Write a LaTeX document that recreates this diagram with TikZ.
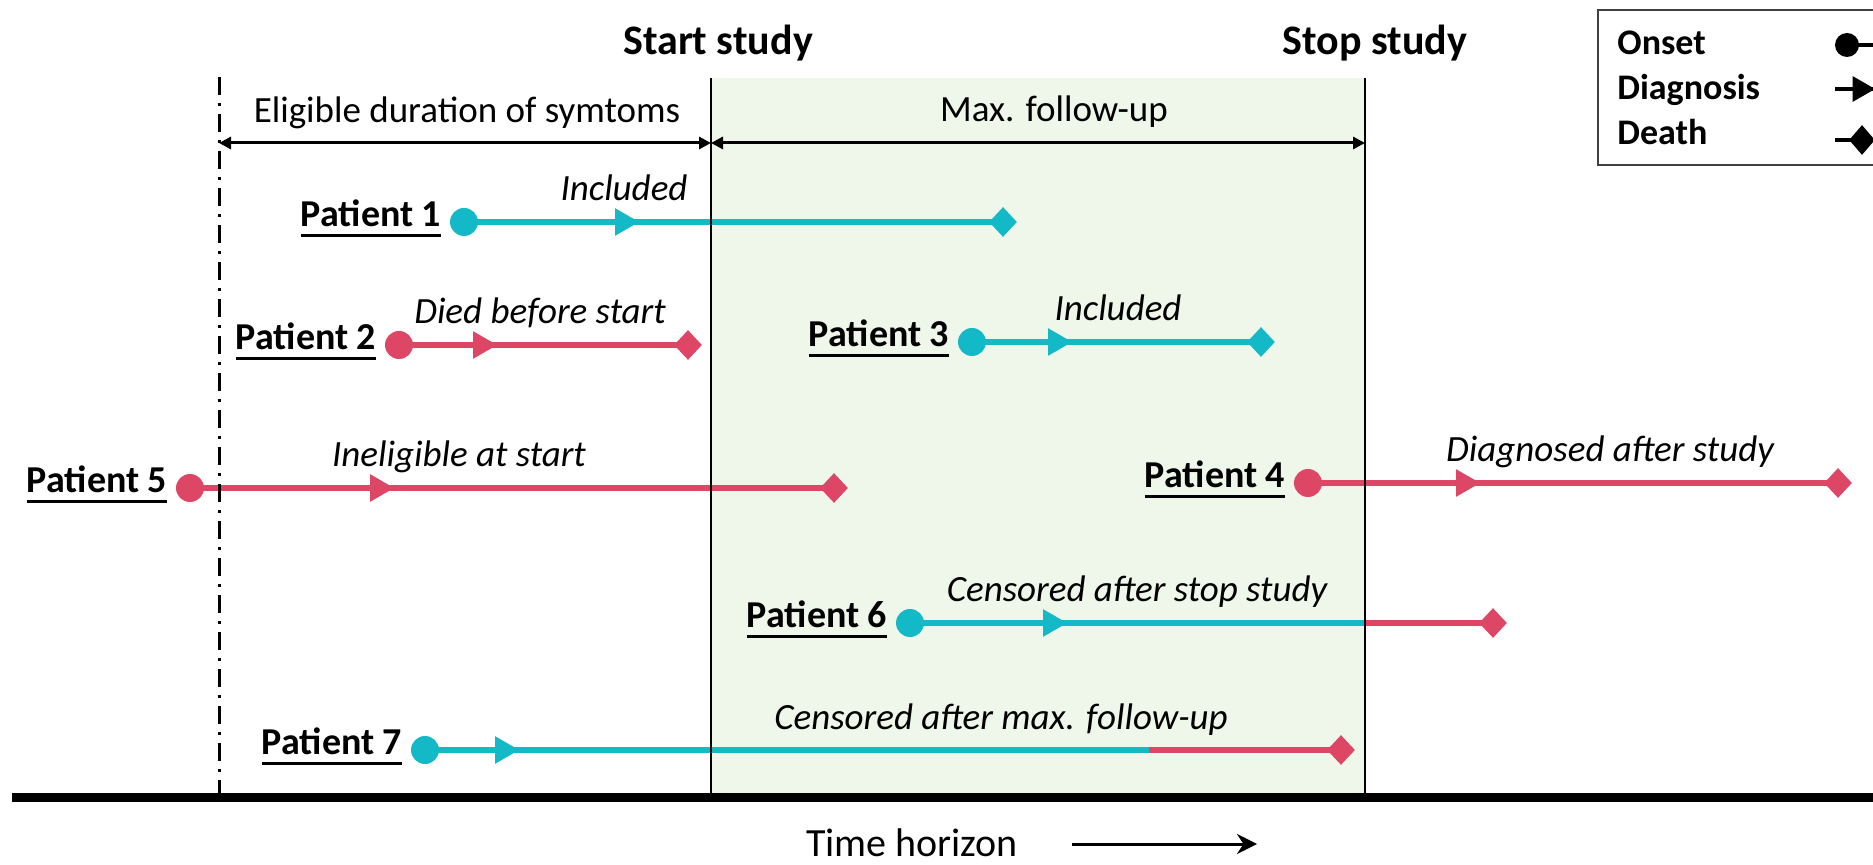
\documentclass[tikz,border=0pt]{standalone}
\usepackage{fontspec}
\setmainfont{Carlito}
\usetikzlibrary{arrows.meta,shapes.geometric}
\definecolor{cyc}{RGB}{20,185,200}
\definecolor{rdc}{RGB}{221,70,100}
\definecolor{grn}{RGB}{239,246,234}
\newcommand\pul[1]{\setbox0\hbox{#1}\rlap{\rule[-5pt]{\wd0}{1.6pt}}\box0}
\begin{document}
\begin{tikzpicture}[x=0.5pt,y=-0.5pt,
 onset/.style={circle,fill,inner sep=0pt,minimum size=14pt},
 diagn/.style={regular polygon,regular polygon sides=3,shape border rotate=-90,fill,inner sep=0pt,minimum size=16pt},
 death/.style={diamond,fill,inner sep=0pt,minimum width=14pt,minimum height=15pt},
 pat/.style={font=\fontsize{19}{22}\selectfont\bfseries,inner sep=0pt,anchor=mid east},
 note/.style={font=\fontsize{18.5}{22}\selectfont\itshape,inner sep=0pt,anchor=base},
 hdr/.style={font=\fontsize{18.5}{22}\selectfont,inner sep=0pt,anchor=base},
 big/.style={font=\fontsize{21}{25}\selectfont\bfseries,inner sep=0pt,anchor=base},
 leg/.style={font=\fontsize{18}{22}\selectfont\bfseries,inner sep=0pt,anchor=base west},
 tl/.style={line width=2.7pt},
 vline/.style={line width=1.3pt},
 dimarrow/.style={line width=1.5pt,{Triangle[length=6pt,width=6pt]}-{Triangle[length=6pt,width=6pt]}}
]
\clip (0,0) rectangle (1873,865);
\fill[white] (0,0) rectangle (1873,865);
% study window
\fill[grn] (711,78) rectangle (1365,797);
\coordinate (dt) at (219,77);
\coordinate (db) at (219,797);
\coordinate (st) at (711,78);
\coordinate (sb) at (711,797);
\coordinate (pt) at (1365,78);
\coordinate (pb) at (1365,797);
\coordinate (bl) at (12,797);
\coordinate (br) at (1873,797);

% headers
\node[big] (hs) at (718,55) {Start study};
\node[big] (hp) at (1375,55) {Stop study};
\node[hdr] (he) at (467,123) {Eligible duration of symtoms};
\node[hdr] (hm) at (1054,122) {Max. follow-up};
\coordinate (a0) at (219,143);
\coordinate (a1) at (711,143);
\coordinate (a2) at (1365,143);
\draw[dimarrow] (a0) -- (a1);
\draw[dimarrow] (a1) -- (a2);

% Patient 1
\node[onset,cyc] (o1) at (464,222) {};
\node[diagn,cyc] (g1) at (623,222) {};
\node[death,cyc] (d1) at (1003,222) {};
\draw[tl,cyc] (o1.center) -- (d1.center);
\node[pat] (l1) at ([xshift=-4pt]o1.west) {\pul{Patient 1}};
\node[note] (n1) at (624,201) {Included};

% Patient 2
\node[onset,rdc] (o2) at (399,345) {};
\node[diagn,rdc] (g2) at (481,345) {};
\node[death,rdc] (d2) at (688,345) {};
\draw[tl,rdc] (o2.center) -- (d2.center);
\node[pat] (l2) at ([xshift=-4pt]o2.west) {\pul{Patient 2}};
\node[note] (n2) at (540,324) {Died before start};

% Patient 3
\node[onset,cyc] (o3) at (972,342) {};
\node[diagn,cyc] (g3) at (1056,342) {};
\node[death,cyc] (d3) at (1261,342) {};
\draw[tl,cyc] (o3.center) -- (d3.center);
\node[pat] (l3) at ([xshift=-4pt]o3.west) {\pul{Patient 3}};
\node[note] (n3) at (1118,321) {Included};

% Patient 5
\node[onset,rdc] (o5) at (190,488) {};
\node[diagn,rdc] (g5) at (378,488) {};
\node[death,rdc] (d5) at (834,488) {};
\draw[tl,rdc] (o5.center) -- (d5.center);
\node[pat] (l5) at ([xshift=-4pt]o5.west) {\pul{Patient 5}};
\node[note] (n5) at (459,467) {Ineligible at start};

% Patient 4
\node[onset,rdc] (o4) at (1308,483) {};
\node[diagn,rdc] (g4) at (1464,483) {};
\node[death,rdc] (d4) at (1838,483) {};
\draw[tl,rdc] (o4.center) -- (d4.center);
\node[pat] (l4) at ([xshift=-4pt]o4.west) {\pul{Patient 4}};
\node[note] (n4) at (1610,462) {Diagnosed after study};

% Patient 6
\node[onset,cyc] (o6) at (910,623) {};
\node[diagn,cyc] (g6) at (1051,623) {};
\coordinate (s6) at (1365,623);
\node[death,rdc] (d6) at (1493,623) {};
\draw[tl,cyc] (o6.center) -- (s6);
\draw[tl,rdc] (s6) -- (d6.center);
\node[pat] (l6) at ([xshift=-4pt]o6.west) {\pul{Patient 6}};
\node[note] (n6) at (1137,602) {Censored after stop study};

% Patient 7
\node[onset,cyc] (o7) at (425,750) {};
\node[diagn,cyc] (g7) at (503,750) {};
\coordinate (s7) at (1149,750);
\node[death,rdc] (d7) at (1341,750) {};
\draw[tl,cyc] (o7.center) -- (s7);
\draw[tl,rdc] (s7) -- (d7.center);
\node[pat] (l7) at ([xshift=-4pt]o7.west) {\pul{Patient 7}};
\node[note] (n7) at (1001,729) {Censored after max. follow-up};

% vertical lines
\draw[line width=1.5pt,dash pattern=on 9pt off 4pt on 1.5pt off 4pt] (dt) -- (db);
\draw[vline] (st) -- (sb);
\draw[vline] (pt) -- (pb);
\draw[line width=4.5pt] (bl) -- (br);

% time horizon
\node[font=\fontsize{20}{24}\selectfont,inner sep=0pt,anchor=base] (th) at (912,856) {Time horizon};
\coordinate (ta) at (1072,844);
\coordinate (tb) at (1257,844);
\draw[line width=1.5pt,-{Stealth[length=10pt,width=10pt]}] (ta) -- (tb);

% legend
\draw[line width=1pt,black!75] (1598,10) rectangle (1890,165);
\node[leg] (lon) at (1617,55) {Onset};
\node[leg] (ldi) at (1617,100) {Diagnosis};
\node[leg] (lde) at (1617,145) {Death};
\node[onset,minimum size=12pt] (so) at (1847,45) {};
\coordinate (so2) at (1880,45);
\draw[line width=2pt] (so.center) -- (so2);
\coordinate (sg0) at (1835,89);
\node[diagn,minimum size=15pt] (sg) at (1860,89) {};
\coordinate (sg2) at (1880,89);
\draw[line width=2pt] (sg0) -- (sg2);
\coordinate (sd0) at (1835,140);
\node[death,minimum width=13pt,minimum height=15pt] (sd) at (1862,140) {};
\draw[line width=2pt] (sd0) -- (sd.center);
\end{tikzpicture}
\end{document}
